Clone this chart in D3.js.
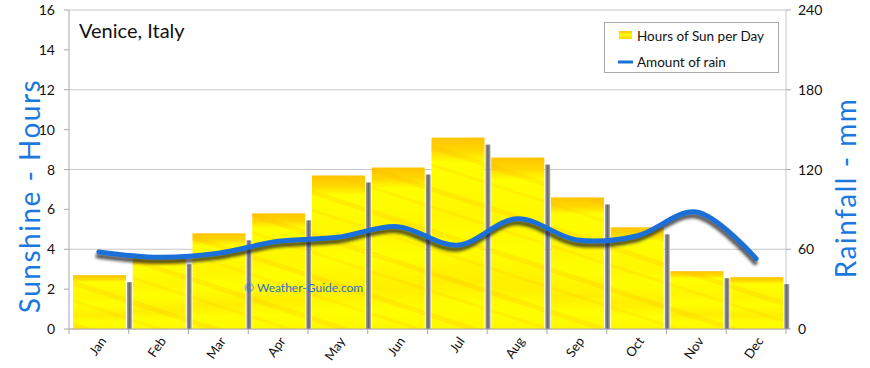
<!DOCTYPE html>
<html><head><meta charset="utf-8">
<script src="https://cdn.jsdelivr.net/npm/d3@7"></script>
<style>body{margin:0;background:#fff}svg{display:block}text{font-family:"Comic Sans MS",Lato,"Noto Sans",sans-serif}</style>
</head><body><svg id="c" width="870" height="368"></svg>
<script>
const months = ["Jan","Feb","Mar","Apr","May","Jun","Jul","Aug","Sep","Oct","Nov","Dec"];
const sunHours = [2.7,3.6,4.8,5.8,7.7,8.1,9.6,8.6,6.6,5.1,2.9,2.6];
const rainMm = [58,54,57,66,69,77,63,83,67,70,88,53];
const leftTicks = [0,2,4,6,8,10,12,14,16];
const rightTicks = [0,60,120,180,240];

const svg = d3.select("#c");
const m = {l:69, r:786, t:10, b:329};
const x = d3.scaleBand().domain(months).range([m.l, m.r]);
const yL = d3.scaleLinear().domain([0,16]).range([m.b, m.t]);
const yR = d3.scaleLinear().domain([0,240]).range([m.b, m.t]);

const defs = svg.append("defs");
const g1 = defs.append("linearGradient").attr("id","sunG").attr("x1",0).attr("y1",0).attr("x2",0).attr("y2",1);
[[0,"#ffc400"],[0.07,"#ffd800"],[0.13,"#ffff00"],[0.4,"#fff600"],[0.55,"#ffff00"],[0.75,"#ffee00"],[0.88,"#ffff00"],[1,"#fff800"]]
  .forEach(([o,c])=>g1.append("stop").attr("offset",o).attr("stop-color",c));
const pat = defs.append("pattern").attr("id","streak").attr("patternUnits","userSpaceOnUse")
  .attr("width",60).attr("height",40).attr("patternTransform","rotate(18)");
pat.append("rect").attr("y",4).attr("width",60).attr("height",5).attr("fill","#ffb000").attr("opacity",0.2);
pat.append("rect").attr("y",22).attr("width",60).attr("height",3).attr("fill","#ffb000").attr("opacity",0.15);
const lg = defs.append("linearGradient").attr("id","legG").attr("x1",0).attr("y1",0).attr("x2",0).attr("y2",1);
[[0,"#ffc000"],[0.5,"#ffff00"],[1,"#ffd000"]].forEach(([o,c])=>lg.append("stop").attr("offset",o).attr("stop-color",c));
const sh = defs.append("linearGradient").attr("id","shG").attr("x1",0).attr("y1",0).attr("x2",1).attr("y2",0);
[[0,"#a0a0a0"],[0.5,"#666"],[1,"#b0b0b0"]].forEach(([o,c])=>sh.append("stop").attr("offset",o).attr("stop-color",c));
const f = defs.append("filter").attr("id","blur").attr("x","-10%").attr("y","-30%").attr("width","120%").attr("height","160%");
f.append("feGaussianBlur").attr("stdDeviation",1.6);

// gridlines
svg.append("g").selectAll("line").data(rightTicks).join("line")
  .attr("x1",m.l).attr("x2",m.r).attr("y1",d=>yR(d)).attr("y2",d=>yR(d))
  .attr("stroke","#c8c8c8").attr("stroke-width",1);

// right border line
svg.append("line").attr("x1",m.r).attr("x2",m.r).attr("y1",m.t).attr("y2",m.b).attr("stroke","#c8c8c8");

// bars
const bw = 53, off = 4;
const bars = svg.append("g");
bars.selectAll(".sh").data(sunHours).join("rect")
  .attr("x",(d,i)=>x(months[i])+off+bw+1).attr("width",5)
  .attr("y",d=>yL(d)+7).attr("height",d=>m.b-yL(d)-7).attr("fill","url(#shG)");
bars.selectAll(".b").data(sunHours).join("rect")
  .attr("x",(d,i)=>x(months[i])+off).attr("width",bw)
  .attr("y",d=>yL(d)).attr("height",d=>m.b-yL(d)).attr("fill","url(#sunG)");
bars.selectAll(".s").data(sunHours).join("rect")
  .attr("x",(d,i)=>x(months[i])+off).attr("width",bw)
  .attr("y",d=>yL(d)).attr("height",d=>m.b-yL(d)).attr("fill","url(#streak)");

// axes
const ax = svg.append("g").attr("stroke","#aaa").attr("fill","none");
ax.append("line").attr("x1",m.l).attr("x2",m.l).attr("y1",m.t).attr("y2",m.b);
ax.append("line").attr("x1",m.l).attr("x2",m.r).attr("y1",m.b).attr("y2",m.b);
ax.selectAll(".lt").data(leftTicks).join("line").attr("x1",m.l-5).attr("x2",m.l).attr("y1",d=>yL(d)).attr("y2",d=>yL(d));
ax.selectAll(".rt").data(rightTicks).join("line").attr("x1",m.r).attr("x2",m.r+5).attr("y1",d=>yR(d)).attr("y2",d=>yR(d));
ax.selectAll(".xt").data(months.concat(["_end"])).join("line")
  .attr("x1",(d,i)=>m.l+i*x.bandwidth()).attr("x2",(d,i)=>m.l+i*x.bandwidth()).attr("y1",m.b).attr("y2",m.b+5);

svg.append("g").selectAll("text").data(leftTicks).join("text")
  .attr("x",55).attr("y",d=>yL(d)+5).attr("text-anchor","end").attr("font-size",14).attr("fill","#111").text(d=>d);
svg.append("g").selectAll("text").data(rightTicks).join("text")
  .attr("x",798).attr("y",d=>yR(d)+5).attr("text-anchor","start").attr("font-size",14).attr("fill","#111").text(d=>d);
svg.append("g").selectAll("text").data(months).join("text")
  .attr("transform",d=>`translate(${x(d)+x.bandwidth()/2+8},${m.b+12}) rotate(-55)`)
  .attr("text-anchor","end").attr("font-size",13).attr("fill","#111").text(d=>d);

// axis titles
svg.append("text").attr("transform","translate(40,196) rotate(-90)").attr("text-anchor","middle")
  .attr("font-size",28).attr("letter-spacing",1.5).attr("fill","#1a78e0").text("Sunshine - Hours");
svg.append("text").attr("transform","translate(856,188) rotate(-90)").attr("text-anchor","middle")
  .attr("font-size",28).attr("letter-spacing",1.5).attr("fill","#1a78e0").text("Rainfall - mm");

// title and watermark
svg.append("text").attr("x",79).attr("y",38).attr("font-size",20).attr("fill","#111").text("Venice, Italy");
svg.append("text").attr("x",244).attr("y",292).attr("font-size",12).attr("fill","#2a6fd0").text("© Weather-Guide.com");

// rain line
const line = d3.line().x((d,i)=>x(months[i])+x.bandwidth()/2).y(d=>yR(d)).curve(d3.curveCatmullRom.alpha(0.5));
svg.append("path").attr("d",line(rainMm)).attr("fill","none").attr("stroke","#222").attr("stroke-width",5)
  .attr("stroke-linecap","round").attr("opacity",0.75).attr("transform","translate(-1,4)").attr("filter","url(#blur)");
svg.append("path").attr("d",line(rainMm)).attr("fill","none").attr("stroke","#1a70d8").attr("stroke-width",5)
  .attr("stroke-linecap","round");

// legend
const L = svg.append("g");
L.append("rect").attr("x",604.5).attr("y",22.5).attr("width",174).attr("height",50).attr("fill","#fff").attr("stroke","#aaa");
L.append("rect").attr("x",619).attr("y",31).attr("width",13).attr("height",8).attr("fill","url(#legG)");
L.append("text").attr("x",637).attr("y",41).attr("font-size",13.5).attr("fill","#111").text("Hours of Sun per Day");
L.append("line").attr("x1",618).attr("x2",633).attr("y1",62).attr("y2",62).attr("stroke","#1a70d8").attr("stroke-width",3);
L.append("text").attr("x",637).attr("y",67).attr("font-size",13.5).attr("fill","#111").text("Amount of rain");
</script></body></html>
